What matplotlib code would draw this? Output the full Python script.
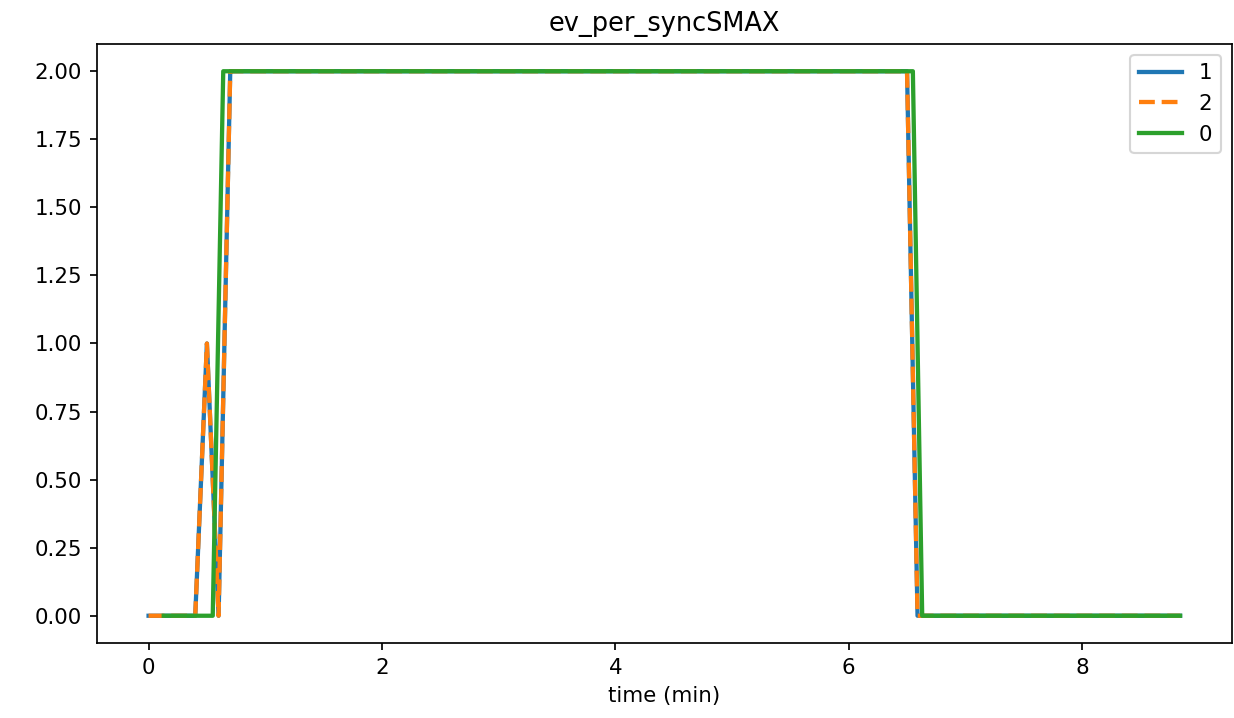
"""Recreate the ev_per_syncSMAX line chart."""

import matplotlib
matplotlib.use('Agg')
import matplotlib.pyplot as plt


# series "1" and "2" (same values, "2" drawn dashed on top)
time_1 = [0.0, 0.40, 0.50, 0.60, 0.70, 6.50, 6.59, 8.84]
vals_1 = [0.0, 0.0, 1.0, 0.0, 2.0, 2.0, 0.0, 0.0]
time_2 = [0.0, 0.40, 0.50, 0.60, 0.70, 6.50, 6.59, 8.84]
vals_2 = [0.0, 0.0, 1.0, 0.0, 2.0, 2.0, 0.0, 0.0]

# series "0"
time_0 = [0.13, 0.55, 0.64, 6.55, 6.63, 8.84]
vals_0 = [0.0, 0.0, 2.0, 2.0, 0.0, 0.0]

labels = ['1', '2', '0']


def main():
    dpi = 154
    fig = plt.figure(figsize=(1234 / dpi, 718 / dpi), dpi=dpi)
    ax = fig.add_axes([0.0786, 0.1045, 0.9195, 0.8342])

    ax.plot(time_1, vals_1, color='tab:blue', lw=2, label=labels[0])
    ax.plot(time_2, vals_2, color='tab:orange', lw=2, ls='--', label=labels[1])
    ax.plot(time_0, vals_0, color='tab:green', lw=2, label=labels[2])

    ax.set_title('ev_per_syncSMAX')
    ax.set_xlabel('time (min)')
    ax.set_xlim(-0.442, 9.282)
    ax.set_ylim(-0.1, 2.1)
    ax.legend(loc='upper right')

    fig.savefig('out.png', dpi=dpi)
    plt.close(fig)


if __name__ == '__main__':
    main()
